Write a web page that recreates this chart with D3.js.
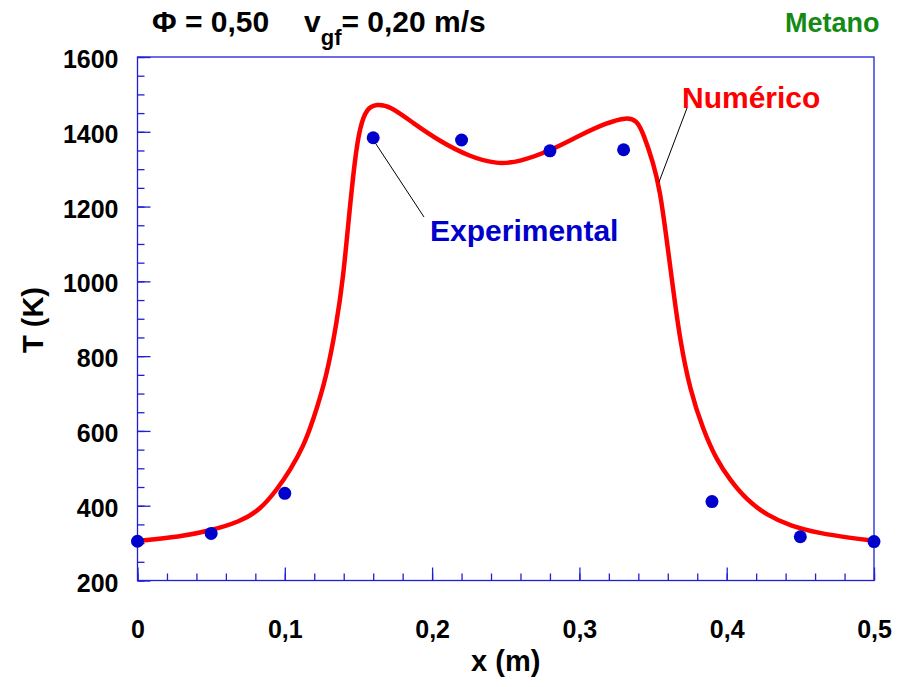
<!DOCTYPE html>
<html>
<head>
<meta charset="utf-8">
<script src="https://cdn.jsdelivr.net/npm/d3@7"></script>
<style>
  body { margin: 0; background: #fff; }
  svg text { font-family: "Liberation Sans", Arial, sans-serif; font-weight: bold; }
</style>
</head>
<body>
<div class="plot"></div>
<script>
// experimental points
var expX = [0, 0.05, 0.1, 0.16, 0.22, 0.28, 0.33, 0.39, 0.45, 0.5]
var expT = [305, 326, 433, 1384, 1378, 1349, 1352, 411, 317, 304]

// numerical curve
var numX = [0, 0.0289, 0.0492, 0.0696, 0.0832, 0.0945, 0.1036, 0.1126, 0.1193, 0.1284, 0.1352, 0.1397, 0.1431, 0.1477,
            0.1511, 0.1556, 0.1624, 0.1714, 0.1872, 0.2054, 0.2257, 0.2439, 0.2597, 0.28, 0.3004, 0.3185,
            0.3321, 0.3389, 0.3434, 0.3502, 0.3547, 0.3593, 0.3637, 0.3683, 0.3751, 0.3841, 0.3932, 0.4022,
            0.4136, 0.4272, 0.443, 0.4633, 0.4837, 0.5]
var numT = [306, 317, 333, 357, 389, 442, 495, 558, 629, 745, 888, 1012, 1155, 1333,
            1414, 1463, 1474, 1469, 1423, 1374, 1333, 1313, 1320, 1349, 1391, 1424,
            1439, 1431, 1396, 1316, 1244, 1111, 977, 843, 709, 602, 522, 469,
            415, 375, 346, 326, 314, 306]

var xTicks = [0, 0.1, 0.2, 0.3, 0.4, 0.5]
var yTicks = [200, 400, 600, 800, 1000, 1200, 1400, 1600]

function drawChart() {
  var W = 899, H = 687
  var pl = 137.5, pr = 874, pt = 57, pb = 580.5
  var axisColor = "#1f1fd6"

  var svg = d3.select(".plot").append("svg")
      .attr("width", W)
      .attr("height", H)

  var x = d3.scaleLinear().domain([0, 0.5]).range([pl, pr])
  var y = d3.scaleLinear().domain([200, 1600]).range([pb, pt])

  // frame
  svg.append("rect")
      .attr("x", pl).attr("y", pt)
      .attr("width", pr - pl).attr("height", pb - pt)
      .attr("fill", "none")
      .attr("stroke", axisColor)
      .attr("stroke-width", 1.3)

  var fmt = function(d) { return d === 0 ? "0" : d3.format(".1f")(d).replace(".", ",") }

  // minor + major ticks, pointing inward
  var xMinor = d3.axisBottom(x).tickValues(d3.range(0, 0.5001, 0.02)).tickSizeInner(-7).tickSizeOuter(0).tickFormat("")
  svg.append("g").attr("transform", "translate(0," + pb + ")").call(xMinor)
  var xMajor = d3.axisBottom(x).tickValues(xTicks).tickSizeInner(-13).tickSizeOuter(0).tickPadding(40).tickFormat(fmt)
  svg.append("g").attr("class", "xmaj").attr("transform", "translate(0," + pb + ")").call(xMajor)

  var yMinor = d3.axisLeft(y).tickValues(d3.range(200, 1601, 50)).tickSizeInner(-7).tickSizeOuter(0).tickFormat("")
  svg.append("g").attr("transform", "translate(" + pl + ",0)").call(yMinor)
  var yMajor = d3.axisLeft(y).tickValues(yTicks).tickSizeInner(-13).tickSizeOuter(0).tickPadding(19).tickFormat(d3.format("d"))
  svg.append("g").attr("class", "ymaj").attr("transform", "translate(" + pl + ",0)").call(yMajor)

  svg.selectAll(".domain").remove()
  svg.selectAll(".tick line").attr("stroke", axisColor).attr("stroke-width", 1.3)
  svg.selectAll(".tick text")
      .attr("fill", "#000")
      .style("font-size", "25px")
  svg.selectAll(".ymaj .tick text").attr("dy", "0.42em")

  // numerical curve
  var line = d3.line()
      .x(function(d) { return x(d[0]) })
      .y(function(d) { return y(d[1]) })
      .curve(d3.curveBasis)

  svg.append("path")
      .datum(d3.zip(numX, numT))
      .attr("d", line)
      .attr("fill", "none")
      .attr("stroke", "#ff0000")
      .attr("stroke-width", 4.5)
      .attr("stroke-linejoin", "round")

  // leader lines
  svg.append("line")
      .attr("x1", x(expX[3]) + 2).attr("y1", y(expT[3]) + 5)
      .attr("x2", 424).attr("y2", 217)
      .attr("stroke", "#000").attr("stroke-width", 1)
  svg.append("line")
      .attr("x1", 687).attr("y1", 108)
      .attr("x2", 659).attr("y2", 182)
      .attr("stroke", "#000").attr("stroke-width", 1)

  // experimental points
  svg.selectAll("circle")
      .data(d3.zip(expX, expT))
      .enter()
      .append("circle")
        .attr("cx", function(d) { return x(d[0]) })
        .attr("cy", function(d) { return y(d[1]) })
        .attr("r", 6.5)
        .attr("fill", "#0000cc")

  // labels
  svg.append("text").attr("x", 430).attr("y", 241)
      .attr("fill", "#0000cc").style("font-size", "30px").text("Experimental")
  svg.append("text").attr("x", 682).attr("y", 108)
      .attr("fill", "#ff0000").style("font-size", "30px").text("Numérico")
  svg.append("text").attr("x", 785).attr("y", 32)
      .attr("fill", "#138a13").style("font-size", "27px").text("Metano")

  var title = svg.append("text").attr("x", 152).attr("y", 32).style("font-size", "30px").attr("fill", "#000")
  title.append("tspan").text("Φ = 0,50")
  title.append("tspan").attr("x", 304).text("v")
  title.append("tspan").attr("dy", 13).style("font-size", "22px").text("gf")
  title.append("tspan").attr("dy", -13).text("= 0,20 m/s")

  svg.append("text").attr("x", (pl + pr) / 2).attr("y", 671)
      .attr("text-anchor", "middle").style("font-size", "29px").attr("fill", "#000").text("x (m)")
  svg.append("text").attr("transform", "translate(43,320) rotate(-90)")
      .attr("text-anchor", "middle").style("font-size", "29px").attr("fill", "#000").text("T (K)")
}

drawChart()
</script>
</body>
</html>
